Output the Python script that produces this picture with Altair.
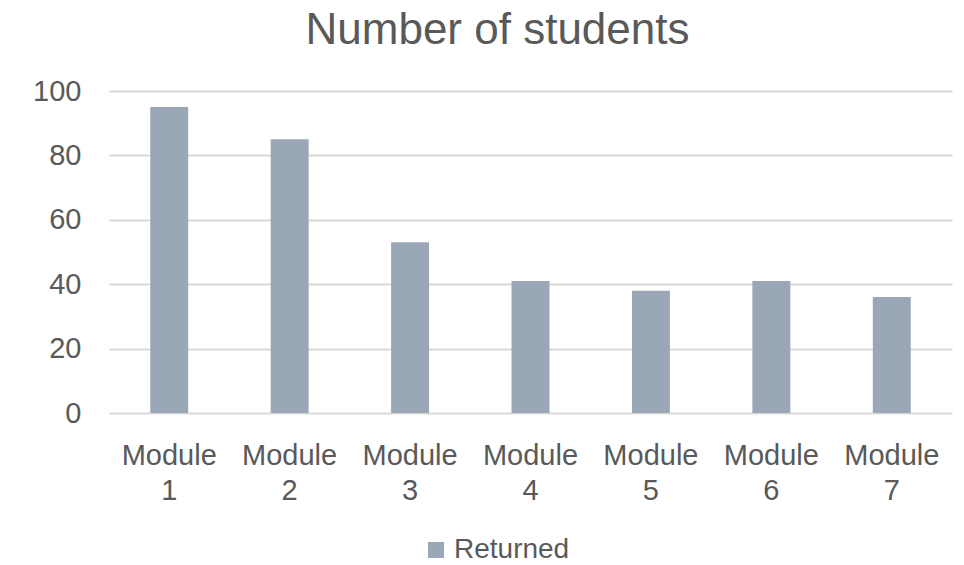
import altair as alt
import pandas as pd

modules = ["Module 1", "Module 2", "Module 3", "Module 4", "Module 5", "Module 6", "Module 7"]
returned = [95, 85, 53, 41, 38, 41, 36]
series = ["Returned"] * len(modules)

df = pd.DataFrame({"module": modules, "value": returned, "series": series})

FONT = "Liberation Sans"
TXT = "#595959"

chart = alt.Chart(df).mark_bar(color="#9aa7b6").encode(
    x=alt.X("module:N", sort=modules,
            scale=alt.Scale(paddingInner=0.685, paddingOuter=0.3425),
            axis=alt.Axis(title=None, labelAngle=0, domain=False, ticks=False,
                          labelExpr="split(datum.label, ' ')",
                          labelFont=FONT, labelFontSize=29, labelColor=TXT,
                          labelPadding=28, labelLineHeight=35)),
    y=alt.Y("value:Q", scale=alt.Scale(domain=[0, 100]),
            axis=alt.Axis(title=None, values=[0, 20, 40, 60, 80, 100], domain=False, ticks=False,
                          gridColor="#d9d9d9", gridWidth=2,
                          labelFont=FONT, labelFontSize=29, labelColor=TXT, labelPadding=28)),
    fill=alt.Fill("series:N", scale=alt.Scale(range=["#9aa7b6"]),
                  legend=alt.Legend(title=None, orient="none", legendX=313, legendY=445,
                                    symbolType="square", symbolSize=256, symbolStrokeWidth=0,
                                    labelFont=FONT, labelFontSize=28, labelColor=TXT)),
).properties(
    width=843, height=322,
    title=alt.TitleParams("Number of students", font=FONT, fontSize=44, color=TXT,
                          fontWeight="normal", anchor="middle", dx=-33, offset=24),
    autosize=alt.AutoSizeParams(type="none"),
    padding={"left": 109, "top": 91, "right": 12, "bottom": 152},
).configure_view(stroke=None)

chart.save("out.html", embed_options={"renderer": "svg", "actions": False})
